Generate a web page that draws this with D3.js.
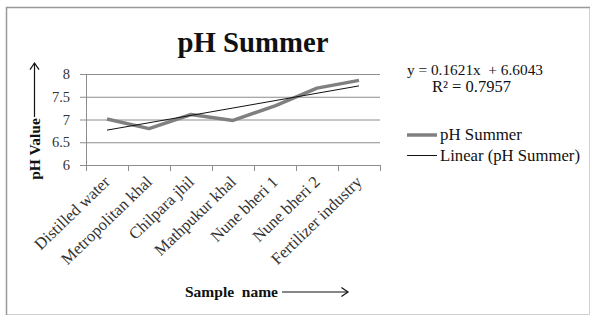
<!DOCTYPE html>
<html><head><meta charset="utf-8">
<script src="https://cdn.jsdelivr.net/npm/d3@7"></script>
<style>body{margin:0;background:#fff}svg{display:block}text{font-family:"Liberation Serif","Times New Roman",serif}</style>
</head><body>
<svg id="c" width="594" height="318"></svg>
<script>
const categories = ["Distilled water","Metropolitan khal","Chilpara jhil","Mathpukur khal","Nune bheri 1","Nune bheri 2","Fertilizer industry"];
const phSummer = [7.01, 6.80, 7.11, 6.98, 7.30, 7.69, 7.86];
const yTicks = [6, 6.5, 7, 7.5, 8];
const trendSlope = 0.1621, trendIntercept = 6.6043;
const equationText = "y = 0.1621x  + 6.6043";
const r2Text = "R² = 0.7957";

const svg = d3.select("#c");
svg.append("rect").attr("x",6.5).attr("y",7.5).attr("width",583).attr("height",307)
  .attr("fill","#fff").attr("stroke","#d0d0d0");
svg.append("line").attr("x1",6).attr("x2",590).attr("y1",7.5).attr("y2",7.5).attr("stroke","#999").attr("stroke-width",1.5);
svg.append("line").attr("x1",6.5).attr("x2",6.5).attr("y1",7).attr("y2",315).attr("stroke","#999").attr("stroke-width",1.5);

// scale a text's font size so its rendered width matches a target width
const fit = (sel, w) => {
  const fs = +sel.attr("font-size"), len = sel.node().getComputedTextLength();
  if (len > 0) sel.attr("font-size", (fs * w / len).toFixed(2));
  return sel;
};

const L=86, R=380, T=74, B=165;
const x = d3.scaleBand().domain(categories).range([L,R]);
const y = d3.scaleLinear().domain([6,8]).range([B,T]);

// grid
svg.append("g").selectAll("line").data(yTicks).join("line")
  .attr("x1",L-6).attr("x2",R).attr("y1",d=>y(d)+0.5).attr("y2",d=>y(d)+0.5)
  .attr("stroke","#8c8c8c").attr("stroke-width",1);
// y axis
svg.append("line").attr("x1",L+0.5).attr("x2",L+0.5).attr("y1",T).attr("y2",B).attr("stroke","#8c8c8c");
svg.append("g").selectAll("text").data(yTicks).join("text")
  .attr("x",70).attr("y",d=>y(d)+5).attr("text-anchor","end")
  .attr("font-size",14.5).attr("fill","#333").text(d=>d);
// x axis ticks
const bounds = categories.map(c=>x(c)).concat([R]);
svg.append("g").selectAll("line").data(bounds).join("line")
  .attr("x1",d=>d+0.5).attr("x2",d=>d+0.5).attr("y1",B).attr("y2",B+6).attr("stroke","#8c8c8c");
// x labels
svg.append("g").selectAll("text").data(categories).join("text")
  .attr("transform",d=>`translate(${x(d)+x.bandwidth()/2+4},${B+18}) rotate(-44)`)
  .attr("text-anchor","end").attr("font-size",16.5).attr("fill","#333").text(d=>d);

const cx = d=>x(d)+x.bandwidth()/2;
// series
svg.append("path").datum(phSummer)
  .attr("d",d3.line().x((d,i)=>cx(categories[i])).y(d=>y(d)))
  .attr("fill","none").attr("stroke","#808080").attr("stroke-width",3.5).attr("stroke-linejoin","round");
// trend
const n = categories.length;
svg.append("line")
  .attr("x1",cx(categories[0])).attr("y1",y(trendIntercept+trendSlope*1))
  .attr("x2",cx(categories[n-1])).attr("y2",y(trendIntercept+trendSlope*n))
  .attr("stroke","#111").attr("stroke-width",1);

// title
fit(svg.append("text").attr("x",253).attr("y",52).attr("text-anchor","middle")
  .attr("font-size",28).attr("font-weight","bold").attr("fill","#111").text("pH Summer"), 151);

// y title
svg.append("text").attr("transform","translate(40,149) rotate(-90)").attr("text-anchor","middle")
  .attr("font-size",15.5).attr("font-weight","bold").attr("fill","#111").text("pH Value");
const arrow = (g,x1,y1,x2,y2)=>{
  g.append("line").attr("x1",x1).attr("y1",y1).attr("x2",x2).attr("y2",y2).attr("stroke","#111").attr("stroke-width",1.2);
  const a=Math.atan2(y2-y1,x2-x1), s=8;
  g.append("path").attr("d",`M${x2-s*Math.cos(a-0.6)},${y2-s*Math.sin(a-0.6)}L${x2},${y2}L${x2-s*Math.cos(a+0.6)},${y2-s*Math.sin(a+0.6)}`)
   .attr("fill","none").attr("stroke","#111").attr("stroke-width",1.2);
};
arrow(svg,34.5,117,34.5,63);
// x title
svg.append("text").attr("x",185).attr("y",297).style("white-space","pre")
  .attr("font-size",15.5).attr("font-weight","bold").attr("fill","#111").text("Sample  name");
arrow(svg,282,292,348,292);

// equation
fit(svg.append("text").attr("x",407).attr("y",75).attr("font-size",15).attr("fill","#111").style("white-space","pre").text(equationText), 136);
fit(svg.append("text").attr("x",432).attr("y",92).attr("font-size",15.5).attr("fill","#111").text(r2Text), 79);

// legend
const lg = svg.append("g");
lg.append("line").attr("x1",407).attr("x2",437).attr("y1",135).attr("y2",135).attr("stroke","#808080").attr("stroke-width",3.5);
fit(lg.append("text").attr("x",440).attr("y",140).attr("font-size",16).attr("fill","#111").text("pH Summer"), 82);
lg.append("line").attr("x1",407).attr("x2",437).attr("y1",155.5).attr("y2",155.5).attr("stroke","#111").attr("stroke-width",1);
fit(lg.append("text").attr("x",440).attr("y",160.5).attr("font-size",16).attr("fill","#111").text("Linear (pH Summer)"), 140);
</script>
</body></html>
